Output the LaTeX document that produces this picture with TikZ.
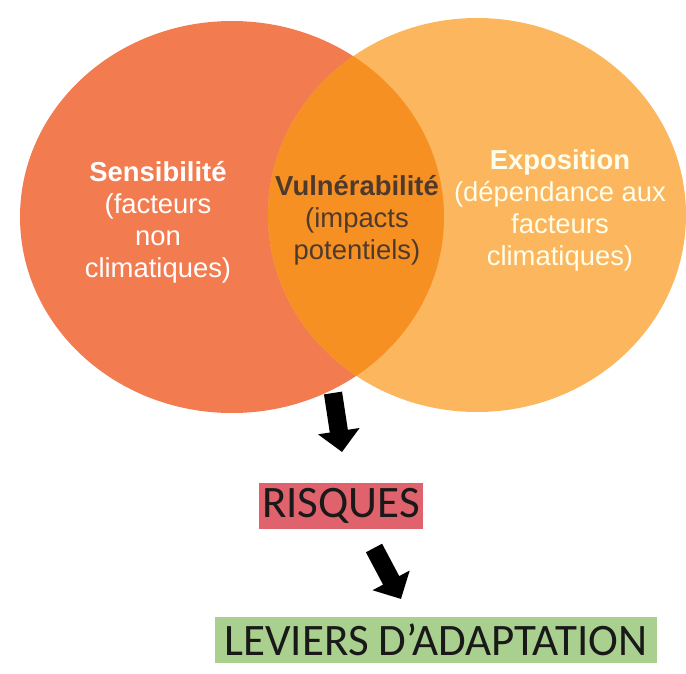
\documentclass[tikz,border=0pt]{standalone}
\usepackage{fontspec}
\setmainfont{Liberation Sans}
\newfontfamily\carlito{Carlito}
\usetikzlibrary{arrows.meta}
\definecolor{sensib}{RGB}{243,123,80}
\definecolor{expos}{RGB}{251,182,94}
\definecolor{vulner}{RGB}{246,144,34}
\definecolor{risq}{RGB}{224,98,108}
\definecolor{levier}{RGB}{170,208,144}
\definecolor{vtext}{RGB}{78,58,44}
\tikzset{
	venntext/.style={align=center, font=\fontsize{19.5}{22.8}\selectfont},
	bigarrow/.style={line width=13pt, -{Triangle[width=29pt,length=15pt]}},
	tagbox/.style={inner sep=0pt, text=black!90, font=\carlito\fontsize{32}{36}\selectfont}
}

\begin{document}
\begin{tikzpicture}[x=0.025cm, y=-0.025cm]
		%%%%% START %%%%%
		\useasboundingbox (0, 0) rectangle (686, 673);
		
		\fill[sensib] (232, 217) ellipse [x radius=212, y radius=196];
		\fill[expos] (477, 215) ellipse [x radius=209, y radius=197];
		\begin{scope}
			\clip (232, 217) ellipse [x radius=212, y radius=196];
			\fill[vulner] (477, 215) ellipse [x radius=209, y radius=197];
		\end{scope}
		
		\node[venntext, text=white] (sensibilite) at (158, 222) {\textbf{Sensibilité}\\(facteurs\\non\\climatiques)};
		\node[venntext, text=vtext] (vulnerabilite) at (357, 220) {\textbf{Vulnérabilité}\\(impacts\\potentiels)};
		\node[venntext, text=white!92!yellow] (exposition) at (560, 210) {\textbf{Exposition}\\(dépendance aux\\facteurs\\climatiques)};
		
		\node[tagbox, fill=risq, minimum width=116.7pt, minimum height=32.7pt] (risques) at (341, 506) {RISQUES};
		\node[tagbox, fill=levier, minimum width=314.4pt, minimum height=32.7pt] (leviers) at (436, 640) {LEVIERS D’ADAPTATION};
		
		\coordinate (lens) at (333, 393);
		\coordinate (lenstip) at (342, 452);
		\coordinate (risqout) at (374, 548);
		\coordinate (risqtip) at (401, 599);
		\draw[bigarrow] (lens) -- (lenstip);
		\draw[bigarrow] (risqout) -- (risqtip);
		%%%%% END %%%%%
	\end{tikzpicture}
\end{document}
